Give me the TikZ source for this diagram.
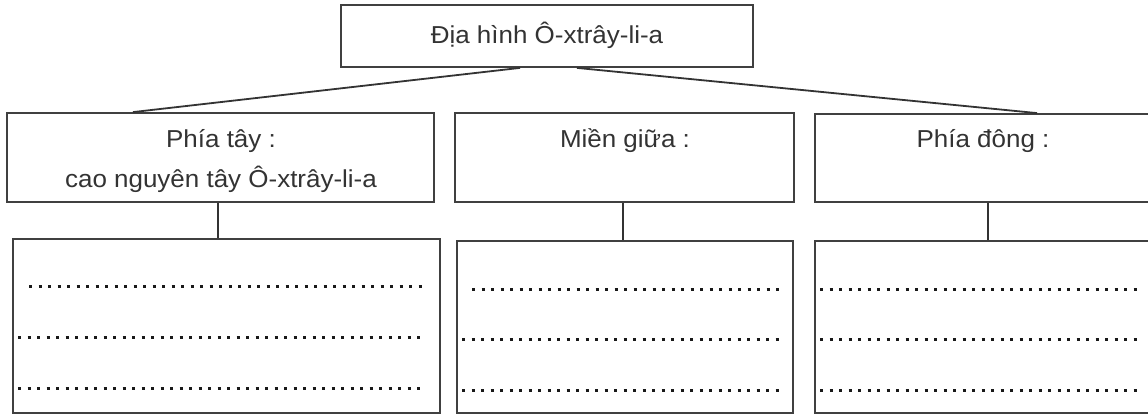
\documentclass[tikz,border=0pt]{standalone}
\usepackage{fontspec}
\setmainfont[FakeStretch=1.06]{Liberation Sans}
\begin{document}
\begin{tikzpicture}[x=1pt,y=-1pt,
  box/.style={draw=black!75,line width=1.8pt,rectangle,inner sep=0pt,fill=white},
  lbl/.style={anchor=base,inner sep=0pt,text=black!80,font=\fontsize{24.5}{29}\selectfont},
  conn/.style={draw=black!80,line width=1.8pt},
  dotline/.style={draw=black!90,line width=3pt,dash pattern=on 3pt off 6.5pt}]
\useasboundingbox (0,0) rectangle (1148,414);
\clip (0,0) rectangle (1148,414);
\fill[white] (0,0) rectangle (1148,414);
% boxes
\node[box,minimum width=412pt,minimum height=62pt] (top) at (547,36) {};
\node[box,minimum width=427pt,minimum height=89pt] (w) at (220.5,157.5) {};
\node[box,minimum width=339pt,minimum height=89pt] (m) at (624.5,157.5) {};
\node[box,minimum width=336pt,minimum height=88pt] (e) at (983,158) {};
\node[box,minimum width=427pt,minimum height=174pt] (wb) at (226.5,326) {};
\node[box,minimum width=336pt,minimum height=172pt] (mb) at (625,327) {};
\node[box,minimum width=336pt,minimum height=172pt] (eb) at (983,327) {};
% texts
\node[lbl] (ttop) at (547,43.5) {Địa hình Ô-xtrây-li-a};
\node[lbl] (tw1) at (221,147.5) {Phía tây :};
\node[lbl] (tw2) at (221,188) {cao nguyên tây Ô-xtrây-li-a};
\node[lbl] (tm) at (625,147.5) {Miền giữa :};
\node[lbl] (te) at (983,147.5) {Phía đông :};
% connectors
\draw[conn] ([xshift=-27pt]top.south) -- ([xshift=-87.5pt]w.north);
\draw[conn] ([xshift=30pt]top.south) -- ([xshift=54pt]e.north);
\draw[conn] ([xshift=-2.5pt]w.south) -- ([xshift=-2.5pt]w.south |- wb.north);
\draw[conn] ([xshift=-1.5pt]m.south) -- ([xshift=-1.5pt]m.south |- mb.north);
\draw[conn] ([xshift=5pt]e.south) -- ([xshift=5pt]e.south |- eb.north);
% dotted answer lines
\draw[dotline] (29,286) -- (426,286);
\draw[dotline] (18,337) -- (426,337);
\draw[dotline] (18,388) -- (426,388);
\draw[dotline] (472,289) -- (780,289);
\draw[dotline] (462,339) -- (780,339);
\draw[dotline] (462,390) -- (780,390);
\draw[dotline] (820,289) -- (1139,289);
\draw[dotline] (820,339) -- (1139,339);
\draw[dotline] (820,390) -- (1139,390);
\end{tikzpicture}
\end{document}
